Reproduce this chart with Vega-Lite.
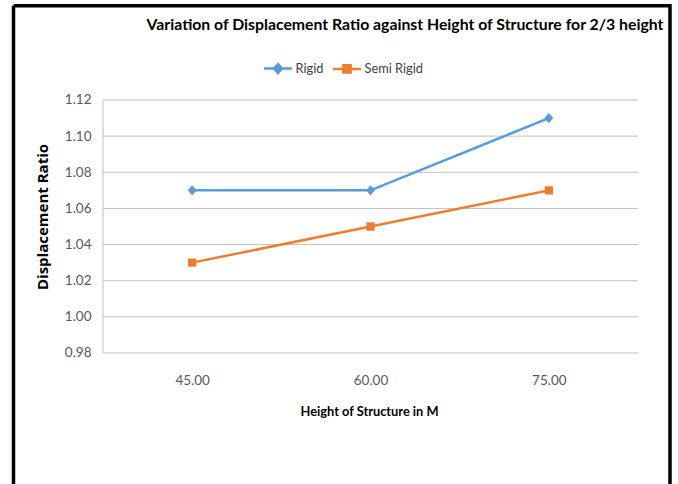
{
  "$schema": "https://vega.github.io/schema/vega-lite/v6.json",
  "width": 656.5,
  "height": 478.3,
  "autosize": {"type": "none"},
  "padding": {"left": 13.5, "top": 5.7, "right": 8, "bottom": 0},
  "background": "white",
  "title": {
    "text": "Variation of Displacement Ratio against Height of Structure for 2/3 height",
    "anchor": "middle",
    "frame": "group",
    "dx": 63.25,
    "offset": -40.5,
    "baseline": "alphabetic",
    "font": "Lato, sans-serif",
    "fontSize": 15.8,
    "fontWeight": "bold",
    "color": "#000000"
  },
  "data": {
    "values": [
      {"h": 45, "s": "Rigid", "v": 1.07},
      {"h": 60, "s": "Rigid", "v": 1.07},
      {"h": 75, "s": "Rigid", "v": 1.11},
      {"h": 45, "s": "Semi Rigid", "v": 1.03},
      {"h": 60, "s": "Semi Rigid", "v": 1.05},
      {"h": 75, "s": "Semi Rigid", "v": 1.07}
    ]
  },
  "layer": [
    {
      "data": {"values": [{"g": 0.98}, {"g": 1.0}, {"g": 1.02}, {"g": 1.04}, {"g": 1.06}, {"g": 1.08}, {"g": 1.1}, {"g": 1.12}]},
      "mark": {"type": "rule", "color": "#bfbfbf", "strokeWidth": 1},
      "encoding": {
        "y": {"field": "g", "type": "quantitative"},
        "x": {"datum": 37.5, "type": "quantitative"},
        "x2": {"datum": 82.5}
      }
    },
    {
      "data": {"values": [{"a": 1}]},
      "mark": {"type": "rule", "color": "#bfbfbf", "strokeWidth": 1},
      "encoding": {
        "x": {"datum": 37.5, "type": "quantitative"},
        "y": {"datum": 0.98, "type": "quantitative"},
        "y2": {"datum": 1.12}
      }
    },
    {
      "mark": {"type": "line", "strokeWidth": 2.5},
      "encoding": {
        "x": {
          "field": "h",
          "type": "quantitative",
          "scale": {"domain": [29.972, 85.192], "nice": false, "zero": false},
          "axis": {
            "title": "Height of Structure in M",
            "values": [45, 60, 75],
            "format": ".2f",
            "offset": -131,
            "domain": false,
            "ticks": false,
            "tickSize": 0,
            "grid": false,
            "labelPadding": 20,
            "labelFont": "Lato, sans-serif",
            "labelFontSize": 13.5,
            "labelColor": "#595959",
            "titleFont": "Lato, sans-serif",
            "titleFontSize": 12.8,
            "titleFontWeight": "bold",
            "titleColor": "#000000",
            "titleX": 355.5,
            "titleY": 62,
            "titleAlign": "center",
            "titleBaseline": "alphabetic"
          }
        },
        "y": {
          "field": "v",
          "type": "quantitative",
          "scale": {"domain": [0.90751, 1.17218], "nice": false, "zero": false},
          "axis": {
            "title": "Displacement Ratio",
            "values": [0.98, 1.0, 1.02, 1.04, 1.06, 1.08, 1.1, 1.12],
            "format": ".2f",
            "offset": -89.5,
            "domain": false,
            "ticks": false,
            "tickSize": 0,
            "grid": false,
            "labelPadding": 12,
            "labelFont": "Lato, sans-serif",
            "labelFontSize": 13.5,
            "labelColor": "#595959",
            "titleFont": "Open Sans, sans-serif",
            "titleFontSize": 15,
            "titleFontWeight": "bold",
            "titleColor": "#000000",
            "titleAngle": -90,
            "titleX": -60.5,
            "titleY": 210.8,
            "titleAlign": "center",
            "titleBaseline": "middle"
          }
        },
        "color": {
          "field": "s",
          "type": "nominal",
          "scale": {"domain": ["Rigid", "Semi Rigid"], "range": ["#5B9BD5", "#ED7D31"]},
          "legend": {
            "title": null,
            "orient": "none",
            "direction": "horizontal",
            "legendX": 249,
            "legendY": 47.3,
            "padding": 0,
            "symbolSize": 784,
            "symbolStrokeWidth": 2.5,
            "labelFont": "Lato, sans-serif",
            "labelFontSize": 12.8,
            "labelColor": "#404040",
            "labelOffset": 2,
            "columnPadding": 4
          }
        }
      }
    },
    {
      "mark": {"type": "point", "filled": true, "size": 1024, "opacity": 1, "strokeWidth": 0},
      "encoding": {
        "x": {"field": "h", "type": "quantitative"},
        "y": {"field": "v", "type": "quantitative"},
        "color": {"field": "s", "type": "nominal"},
        "shape": {
          "field": "s",
          "type": "nominal",
          "scale": {"domain": ["Rigid", "Semi Rigid"], "range": ["M-1,0H1M0,-0.32L0.28,0L0,0.32L-0.28,0Z", "M-1,0H1M-0.26,-0.26H0.26V0.26H-0.26Z"]}
        }
      }
    }
  ],
  "config": {
    "view": {"stroke": "#000000", "strokeWidth": 3.5, "strokeDash": [1134.8, 656.5, 478.3, 0]}
  }
}
